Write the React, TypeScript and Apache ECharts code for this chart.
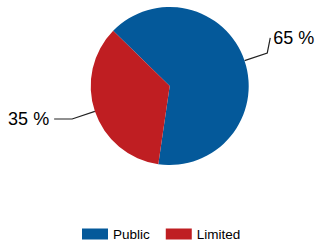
import React, { useEffect, useRef } from "react";
import * as echarts from "echarts";

const categories = ["Public", "Limited"];
const values = [65, 35];
const colors = ["#04599a", "#bf1e22"];

export default function App() {
  const ref = useRef<HTMLDivElement>(null);
  useEffect(() => {
    document.body.style.margin = "0";
    const chart = echarts.init(ref.current!, null, { renderer: "svg" });
    chart.setOption({
      animation: false,
      legend: {
        left: 82,
        top: 227,
        padding: 0,
        itemWidth: 26,
        itemHeight: 11,
        itemGap: 16,
        icon: "rect",
        textStyle: { fontFamily: "Liberation Sans, Arial", fontSize: 13.5, color: "#000" },
        data: categories,
      },
      series: [
        {
          type: "pie",
          center: [169.7, 86],
          radius: 79,
          startAngle: 135.7,
          clockwise: true,
          avoidLabelOverlap: false,
          data: categories.map((c, i) => ({
            name: c,
            value: values[i],
            itemStyle: { color: colors[i] },
          })),
          itemStyle: { borderWidth: 0 },
          emphasis: { disabled: true },
          label: {
            show: true,
            formatter: "{c} %",
            fontFamily: "Liberation Sans, Arial",
            fontSize: 18,
            color: "#000",
            distanceToLabelLine: 5,
          },
          labelLine: {
            show: true,
            length: 24,
            length2: 18,
            lineStyle: { color: "#222", width: 1.2 },
          },
          labelLayout: (params: any) => {
            if (params.dataIndex !== 0 || !params.labelLinePoints) return {};
            const pts = params.labelLinePoints;
            const p2 = [pts[1][0] + 3, pts[1][1] - 15];
            return {
              x: p2[0] + 3,
              y: p2[1],
              align: "left",
              verticalAlign: "middle",
              labelLinePoints: [pts[0], pts[1], p2],
            };
          },
        },
      ],
    });
    return () => chart.dispose();
  }, []);
  return <div ref={ref} style={{ width: 317, height: 245 }} />;
}
